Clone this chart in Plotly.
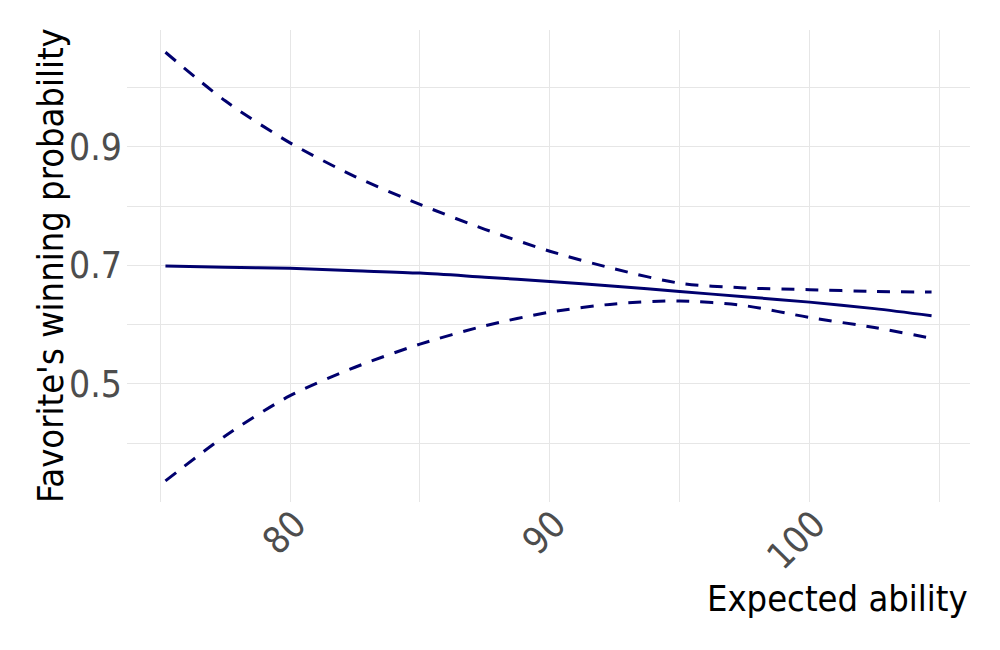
import plotly.graph_objects as go

# Data
expected_ability = [75.2, 77.5, 80, 82.5, 85, 87.5, 90, 92.5, 95, 97.5, 100, 102.5, 104.7]
win_prob = [0.699, 0.697, 0.695, 0.691, 0.687, 0.680, 0.673, 0.665, 0.656, 0.647, 0.638, 0.627, 0.615]
upper_bound = [1.060, 0.978, 0.907, 0.850, 0.803, 0.761, 0.724, 0.694, 0.670, 0.662, 0.659, 0.656, 0.655]
lower_bound = [0.336, 0.412, 0.480, 0.528, 0.567, 0.598, 0.621, 0.635, 0.640, 0.632, 0.612, 0.595, 0.577]

x_ticks = [80, 90, 100]
y_ticks = [0.5, 0.7, 0.9]

LINE = "#00006e"
FONT = "'Liberation Sans Narrow', 'Arial Narrow', 'DejaVu Sans Condensed', 'Liberation Sans', sans-serif"

fig = go.Figure()
for ys, dash in [(upper_bound, "13px,11px"), (lower_bound, "13px,11px"), (win_prob, "solid")]:
    fig.add_trace(go.Scatter(
        x=expected_ability, y=ys, mode="lines",
        line=dict(color=LINE, width=3, dash=dash, shape="spline", smoothing=0.8),
        showlegend=False, hoverinfo="skip"))

grid = "#e6e6e6"
fig.update_layout(
    width=1000, height=650,
    margin=dict(l=119, r=38, t=22, b=156),
    paper_bgcolor="white", plot_bgcolor="white",
    font=dict(family=FONT, color="#4d4d4d"),
    xaxis=dict(range=[73.72, 106.18], tickvals=x_ticks, ticktext=[str(v) for v in x_ticks],
               tickangle=-45, tickfont=dict(size=37, family=FONT, color="#4d4d4d"),
               showgrid=True, gridcolor=grid, gridwidth=1, zeroline=False, showline=False,
               ticks="", ticklen=0, automargin=False, ticklabelstandoff=-8, ticklabelshift=5,
               minor=dict(tickvals=[75, 85, 95, 105], showgrid=True, gridcolor=grid, gridwidth=1)),
    yaxis=dict(range=[0.3004, 1.0976], tickvals=y_ticks, ticktext=[str(v) for v in y_ticks],
               tickfont=dict(size=37, family=FONT, color="#4d4d4d"),
               showgrid=True, gridcolor=grid, gridwidth=1, zeroline=False, showline=False,
               ticks="", ticklen=0, ticklabelstandoff=4, automargin=False,
               minor=dict(tickvals=[0.4, 0.6, 0.8, 1.0], showgrid=True, gridcolor=grid, gridwidth=1)),
    annotations=[
        dict(text="Expected ability", xref="paper", yref="paper", x=1.0, y=0,
             xanchor="right", yanchor="middle", yshift=-96, showarrow=False,
             font=dict(size=36, family=FONT, color="black")),
        dict(text="Favorite's winning probability", xref="paper", yref="paper", x=0, y=0.5,
             xanchor="center", yanchor="middle", xshift=-77, textangle=-90, showarrow=False,
             font=dict(size=36, family=FONT, color="black")),
    ],
)

fig.write_html("out.html")
